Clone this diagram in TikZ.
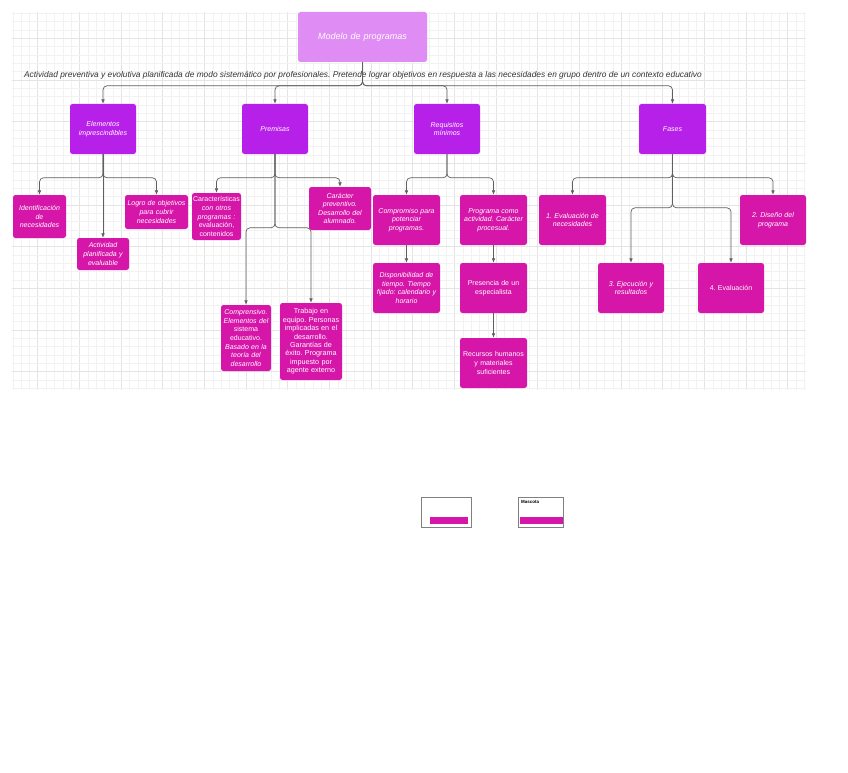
\documentclass[tikz,border=0pt]{standalone}
\usepackage{fontspec}
\setmainfont{Liberation Sans}
\frenchspacing
\usetikzlibrary{arrows.meta}
\definecolor{topc}{RGB}{223,140,245}
\definecolor{lvone}{RGB}{183,32,232}
\definecolor{lvtwo}{RGB}{214,22,168}
\definecolor{conc}{RGB}{95,95,95}
\definecolor{txtc}{RGB}{50,50,50}
\definecolor{gminor}{RGB}{242,242,242}
\definecolor{gmajor}{RGB}{228,228,228}
\newcommand\bx[7]{%
 \pgfmathsetmacro\bxw{#5-#3}\pgfmathsetmacro\bxh{#6-#4}%
 \pgfmathsetmacro\bxt{#5-#3-2}%
 \pgfmathsetmacro\bxcx{(#3+#5)/2}\pgfmathsetmacro\bxcy{(#4+#6)/2}%
 \node[#2, minimum width=\bxw pt, minimum height=\bxh pt, text width=\bxt pt] (#1) at (\bxcx,\bxcy) {#7};}
\tikzset{
 base/.style={rounded corners=2.5pt, inner sep=0pt, align=center, text=white},
 topbox/.style={base, fill=topc, font=\fontsize{9}{11}\selectfont\itshape},
 lone/.style={base, fill=lvone, font=\fontsize{7}{8.6}\selectfont\itshape},
 ltwo/.style={base, fill=lvtwo, font=\fontsize{7}{8.6}\selectfont\itshape},
 conn/.style={draw=conc, line width=0.7pt, rounded corners=4pt, -{Latex[length=4.5pt,width=3.6pt]}},
}
\begin{document}
\begin{tikzpicture}[x=1pt,y=-1pt]
\useasboundingbox (0,0) rectangle (848,773);
\fill[white] (0,0) rectangle (848,773);
% grid
\begin{scope}
\clip (12,12) rectangle (806,390);
\foreach \j in {0,...,95}{
  \pgfmathsetmacro\gx{12.7+8.3333*\j}
  \pgfmathtruncatemacro\gm{mod(\j,5)}
  \ifnum\gm=3 \draw[gmajor,line width=0.5pt] (\gx,12) -- (\gx,390);
  \else \draw[gminor,line width=0.4pt] (\gx,12) -- (\gx,390); \fi
}
\foreach \j in {0,...,45}{
  \pgfmathsetmacro\gy{13.3+8.3333*\j}
  \pgfmathtruncatemacro\gm{mod(\j,5)}
  \ifnum\gm=3 \draw[gmajor,line width=0.5pt] (12,\gy) -- (806,\gy);
  \else \draw[gminor,line width=0.4pt] (12,\gy) -- (806,\gy); \fi
}
\end{scope}
% title
\bx{top}{topbox}{298}{12}{427}{62}{Modelo de programas}
\node[text=txtc, font=\fontsize{8.35}{9}\selectfont\itshape, inner sep=0pt] (desc) at (363,75) {Actividad preventiva y evolutiva planificada de modo sistemático por profesionales. Pretende lograr objetivos en respuesta a las necesidades en grupo dentro de un contexto educativo};
% level 1
\bx{elem}{lone}{70}{104}{136}{154}{Elementos\\imprescindibles}
\bx{prem}{lone}{242}{104}{308}{154}{Premisas}
\bx{req}{lone}{414}{104}{480}{154}{Requisitos\\mínimos}
\bx{fas}{lone}{639}{104}{706}{154}{Fases}
% level 2
\bx{ident}{ltwo}{13}{195}{66}{238}{Identificación\\de\\necesidades}
\bx{activ}{ltwo}{77}{238}{129}{270}{Actividad\\planificada y\\evaluable}
\bx{logro}{ltwo}{125}{195}{188}{229}{Logro de objetivos\\para cubrir\\necesidades}
\bx{caract}{ltwo}{192}{193}{241}{240}{\upshape Características\\\itshape con otros\\programas :\\\upshape evaluación,\\contenidos}
\bx{carac}{ltwo}{309}{187}{371}{230}{Carácter\\preventivo.\\Desarrollo del\\alumnado.}
\bx{compr}{ltwo}{221}{305}{271}{371}{Comprensivo.\\Elementos del\\\upshape sistema\\educativo.\\\itshape Basado en la\\teoría del\\desarrollo}
\bx{trab}{ltwo}{280}{303}{342}{380}{\upshape\fontsize{7.2}{8.4}\selectfont Trabajo en\\equipo. Personas\\implicadas en el\\desarrollo.\\Garantías de\\éxito. Programa\\impuesto por\\agente externo}
\bx{comp}{ltwo}{373}{195}{440}{245}{Compromiso para\\potenciar\\programas.}
\bx{prog}{ltwo}{460}{195}{527}{245}{Programa como\\actividad. Carácter\\procesual.}
\bx{disp}{ltwo}{373}{263}{440}{313}{Disponibilidad de\\tiempo. Tiempo\\fijado: calendario y\\horario}
\bx{pres}{ltwo}{460}{263}{527}{313}{\upshape Presencia de un\\especialista}
\bx{recu}{ltwo}{460}{338}{527}{388}{\upshape Recursos humanos\\y materiales\\suficientes}
\bx{fone}{ltwo}{539}{195}{606}{245}{1. Evaluación de\\necesidades}
\bx{ftwo}{ltwo}{740}{195}{806}{245}{2. Diseño del\\programa}
\bx{fthree}{ltwo}{598}{263}{664}{313}{3. Ejecución y\\resultados}
\bx{ffour}{ltwo}{698}{263}{764}{313}{\upshape 4. Evaluación}
% connectors level 0 -> 1
\draw[conn] (top.south) |- ([yshift=18pt]elem.north) -- (elem.north);
\draw[conn] (top.south) |- ([yshift=18pt]prem.north) -- (prem.north);
\draw[conn] (top.south) |- ([yshift=18pt]req.north) -- (req.north);
\draw[conn] (top.south) |- ([yshift=18pt]fas.north) -- (fas.north);
% elementos
\draw[conn] (elem.south) |- ([yshift=17pt]ident.north) -- (ident.north);
\draw[conn] (elem.south) -- (activ.north);
\draw[conn] (elem.south) |- ([yshift=17pt]logro.north) -- (logro.north);
% premisas
\draw[conn] (prem.south) |- ([yshift=15pt]caract.north) -- (caract.north);
\draw[conn] (prem.south) |- ([yshift=9pt]carac.north) -- (carac.north);
\draw[conn] (prem.south) |- ([yshift=77pt]compr.north) -- (compr.north);
\draw[conn] (prem.south) |- ([yshift=75pt]trab.north) -- (trab.north);
% requisitos
\draw[conn] (req.south) |- ([yshift=17pt]comp.north) -- (comp.north);
\draw[conn] (req.south) |- ([yshift=17pt]prog.north) -- (prog.north);
\draw[conn] (comp.south) -- (disp.north);
\draw[conn] (prog.south) -- (pres.north);
\draw[conn] (pres.south) -- (recu.north);
% fases
\draw[conn] (fas.south) |- ([yshift=17pt]fone.north) -- (fone.north);
\draw[conn] (fas.south) |- ([yshift=17pt]ftwo.north) -- (ftwo.north);
\draw[conn] (fas.south) |- ([yshift=55pt]fthree.north) -- (fthree.north);
\draw[conn] (fas.south) |- ([yshift=55pt]ffour.north) -- (ffour.north);
% legend-like boxes
\node[draw=gray, line width=0.5pt, minimum width=50pt, minimum height=30pt, inner sep=0pt] (lgone) at (446,512) {};
\fill[lvtwo] (430,517) rectangle (468,524);
\node[draw=gray, line width=0.5pt, minimum width=45pt, minimum height=30pt, inner sep=0pt] (lgtwo) at (540.5,512) {};
\fill[lvtwo] (520,517) rectangle (563,524);
\node[anchor=north west, inner sep=0pt, font=\fontsize{4.5}{5}\selectfont\bfseries, text=black] (lgtxt) at (521,500) {Mascota};
\end{tikzpicture}
\end{document}
